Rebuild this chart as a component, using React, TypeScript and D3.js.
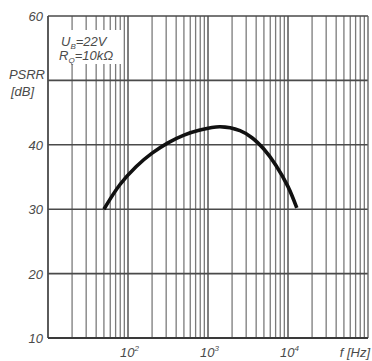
import React from "react";
import * as d3 from "d3";

const freqHz = [50, 79, 126, 200, 316, 501, 794, 1413, 2512, 3548, 5012, 7079, 10000, 12880];
const psrrDb = [30.0, 33.8, 36.6, 38.7, 40.3, 41.5, 42.3, 42.8, 42.2, 41.1, 39.3, 36.8, 33.5, 30.2];
const yTicks = [10, 20, 30, 40, 50, 60];
const yTickLabels = ["10", "20", "30", "40", "", "60"];
const xDecades = [2, 3, 4];

const W = 372;
const H = 361;
const left = 48;
const right = 368;
const top = 16;
const bottom = 338;

export default function App() {
  const x = d3.scaleLog().domain([10, 100000]).range([left, right]);
  const y = d3.scaleLinear().domain([10, 60]).range([bottom, top]);

  const minor: number[] = [];
  for (let e = 1; e <= 4; e++) {
    for (let m = 2; m <= 9; m++) minor.push(m * Math.pow(10, e));
  }
  const decades = [100, 1000, 10000];

  const line = d3
    .line<number>()
    .x((_, i) => x(freqHz[i]))
    .y((d) => y(d))
    .curve(d3.curveCatmullRom.alpha(0.5));

  const font = "'Liberation Sans', Arial, sans-serif";
  const textColor = "#4a4a4a";

  return (
    <svg
      width={W}
      height={H}
      style={{ position: "absolute", left: 0, top: 0, background: "#fff" }}
      fontFamily={font}
    >
      <rect x={0} y={0} width={W} height={H} fill="#fff" />
      {minor.map((f) => (
        <line key={"m" + f} x1={x(f)} x2={x(f)} y1={top} y2={bottom} stroke="#7a7a7a" strokeWidth={1.3} />
      ))}
      {decades.map((f) => (
        <line key={"d" + f} x1={x(f)} x2={x(f)} y1={top} y2={bottom} stroke="#555" strokeWidth={1.5} />
      ))}
      {yTicks.map((t) => (
        <line key={"h" + t} x1={left} x2={right} y1={y(t)} y2={y(t)} stroke="#4a4a4a" strokeWidth={1.6} />
      ))}
      <line x1={left} x2={left} y1={top} y2={bottom} stroke="#4a4a4a" strokeWidth={1.8} />
      <line x1={right} x2={right} y1={top} y2={bottom} stroke="#666" strokeWidth={1.4} />
      <line x1={left} x2={right} y1={bottom} y2={bottom} stroke="#3a3a3a" strokeWidth={2} />

      <rect x={57} y={30} width={66} height={34} fill="#fff" />
      <text x={61} y={46} fontSize={13} fontStyle="italic" fill={textColor}>
        U<tspan fontSize={8} dy={3}>B</tspan>
        <tspan dy={-3}>=22V</tspan>
      </text>
      <text x={59} y={60} fontSize={13} fontStyle="italic" fill={textColor}>
        R<tspan fontSize={8} dy={3}>Q</tspan>
        <tspan dy={-3}>=10kΩ</tspan>
      </text>

      <path d={line(psrrDb) || ""} fill="none" stroke="#111" strokeWidth={3.6} strokeLinecap="butt" />

      {yTicks.map((t, i) => (
        <text key={"yl" + t} x={43} y={y(t) + 5} textAnchor="end" fontSize={13} fontStyle="italic" fill={textColor}>
          {yTickLabels[i]}
        </text>
      ))}
      <text x={45} y={79} textAnchor="end" fontSize={13} fontStyle="italic" fill={textColor}>
        PSRR
      </text>
      <text x={11} y={96} fontSize={13} fontStyle="italic" fill={textColor}>
        [dB]
      </text>

      {xDecades.map((e) => (
        <text key={"xl" + e} x={x(Math.pow(10, e)) - 8} y={357} fontSize={13} fontStyle="italic" fill={textColor}>
          10<tspan fontSize={8} dy={-6}>{e}</tspan>
        </text>
      ))}
      <text x={370} y={357} textAnchor="end" fontSize={13} fontStyle="italic" fill={textColor}>
        f [Hz]
      </text>
    </svg>
  );
}
